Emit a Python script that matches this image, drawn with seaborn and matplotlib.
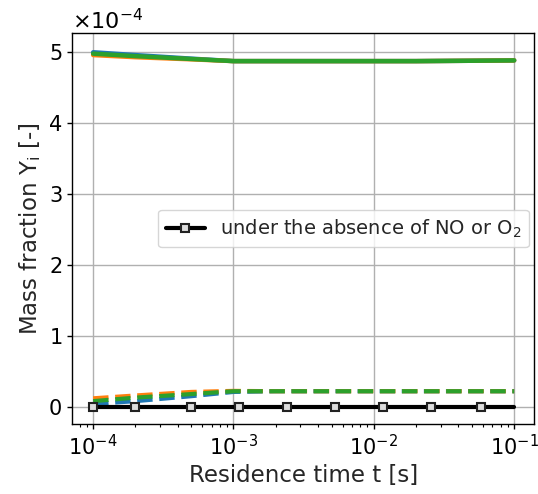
import numpy as np
import pandas as pd
import matplotlib
matplotlib.use("Agg")
import matplotlib.pyplot as plt
from matplotlib.ticker import ScalarFormatter
import seaborn as sns

# Residence times [s]
t_species = [1e-4, 2e-4, 5e-4, 1e-3, 2e-3, 5e-3, 1e-2, 2e-2, 5e-2, 1e-1]

# Main species mass fraction (solid) for three cases
y_solid_blue = [5.00e-4, 4.96e-4, 4.91e-4, 4.875e-4, 4.875e-4, 4.875e-4, 4.875e-4, 4.875e-4, 4.88e-4, 4.885e-4]
y_solid_orange = [4.96e-4, 4.93e-4, 4.90e-4, 4.875e-4, 4.875e-4, 4.875e-4, 4.875e-4, 4.875e-4, 4.88e-4, 4.885e-4]
y_solid_green = [4.98e-4, 4.945e-4, 4.905e-4, 4.875e-4, 4.875e-4, 4.875e-4, 4.875e-4, 4.875e-4, 4.88e-4, 4.885e-4]

# Product mass fraction (dashed) for three cases
y_dash_blue = [0.04e-4, 0.08e-4, 0.15e-4, 0.21e-4, 0.22e-4, 0.22e-4, 0.22e-4, 0.22e-4, 0.22e-4, 0.22e-4]
y_dash_orange = [0.12e-4, 0.16e-4, 0.21e-4, 0.225e-4, 0.22e-4, 0.22e-4, 0.22e-4, 0.22e-4, 0.22e-4, 0.22e-4]
y_dash_green = [0.08e-4, 0.13e-4, 0.18e-4, 0.22e-4, 0.22e-4, 0.22e-4, 0.22e-4, 0.22e-4, 0.22e-4, 0.22e-4]

# Reference case without NO or O2
t_ref = [1e-4, 2e-4, 5e-4, 1.1e-3, 2.4e-3, 5.3e-3, 1.16e-2, 2.57e-2, 5.76e-2, 1e-1]
y_ref = [0.0] * len(t_ref)

colors = ["#1f77b4", "#ff7f0e", "#2ca02c"]

sns.set_theme(style="ticks", rc={"axes.grid": True, "grid.color": "#b0b0b0",
                                 "grid.linewidth": 1.0, "axes.edgecolor": "black",
                                 "axes.linewidth": 1.0, "xtick.color": "black",
                                 "ytick.color": "black"})
plt.rcParams["font.family"] = ["DejaVu Sans"]

fig = plt.figure(figsize=(5.38, 4.94), dpi=100)
ax = fig.add_axes([0.134, 0.142, 0.859, 0.791])

for ys, c in zip([y_solid_blue, y_solid_orange, y_solid_green], colors):
    sns.lineplot(x=t_species, y=ys, ax=ax, color=c, linewidth=3.2, linestyle="-")
for ys, c in zip([y_dash_blue, y_dash_orange, y_dash_green], colors):
    sns.lineplot(x=t_species, y=ys, ax=ax, color=c, linewidth=3, linestyle="--")

sns.lineplot(x=t_ref, y=y_ref, ax=ax, color="black", linewidth=3,
             marker="s", markersize=6, markerfacecolor="#dddddd",
             markeredgecolor="#222222", markeredgewidth=1.5,
             markevery=list(range(len(t_ref) - 1)),
             label="under the absence of NO or O$_2$")

ax.set_xscale("log")
ax.set_xlim(10 ** -4.15, 10 ** -0.857)
ax.set_ylim(-0.24e-4, 5.27e-4)

fmt = ScalarFormatter(useMathText=True)
fmt.set_powerlimits((0, 0))
ax.yaxis.set_major_formatter(fmt)
ax.yaxis.get_offset_text().set_fontsize(16)

ax.tick_params(axis="both", which="major", labelsize=15, length=3.5, width=1, direction="out")
ax.tick_params(axis="x", which="minor", length=2, width=0.8, direction="out")
ax.grid(True, which="major")
ax.grid(False, which="minor")

ax.set_xlabel("Residence time t [s]", fontsize=16.5)
ax.set_ylabel("Mass fraction Y$_\\mathrm{i}$ [-]", fontsize=16.5)

ax.legend(loc="center right", fontsize=14, frameon=True, handlelength=2.0,
          borderaxespad=0.25)

fig.savefig("out.png", dpi=100)
